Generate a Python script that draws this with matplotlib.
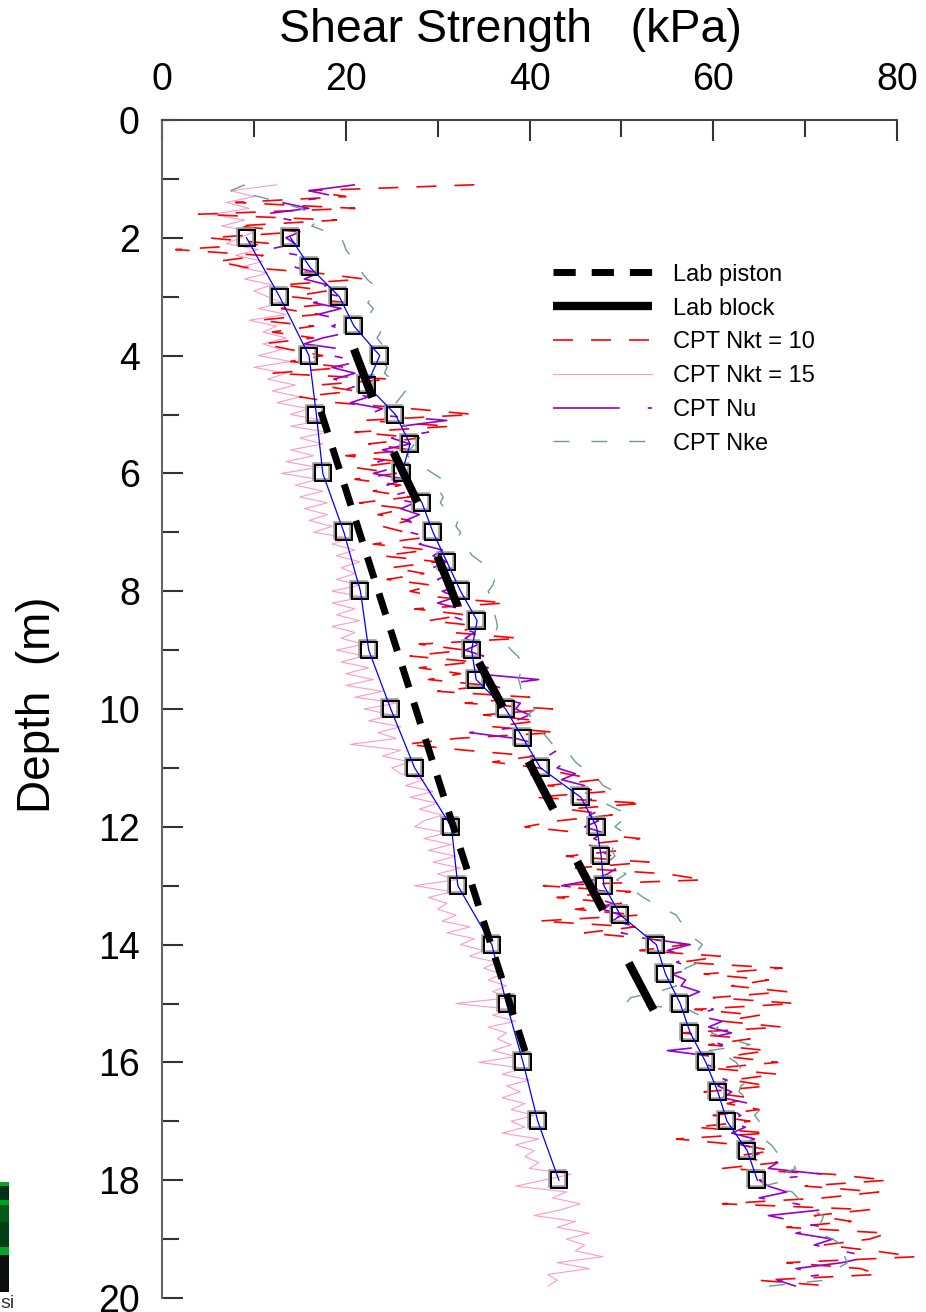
import numpy as np
import matplotlib
matplotlib.use("Agg")
import matplotlib.pyplot as plt
import matplotlib.transforms as mtransforms
from matplotlib.patches import Rectangle

plt.rcParams['font.family'] = ['Liberation Sans', 'DejaVu Sans']

# ---- data -------------------------------------------------------------
# CPT profiles, sampled every 0.1 m from 1.1 m to 19.8 m
cpt_depth = np.round(np.arange(1.1, 19.81, 0.1), 1)

su_nkt10 = [
    34, 16, 20, 8, 21, 4, 19, 8, 15, 5,
    12, 1.5, 11, 6, 9, 17, 22, 13, 18, 14,
    20, 13, 17, 10.5, 16.5, 12, 16.5, 11, 14, 17.5,
    14, 20, 12, 25, 17, 21, 15, 19, 27, 34,
    22, 31.5, 21, 28, 22.5, 27, 20, 26, 21, 25.5,
    21, 26, 23, 27, 21.5, 26.5, 23.5, 27, 24, 26.5,
    28, 23, 29, 24, 30, 25, 28.5, 24.5, 29.5, 27,
    30, 37.5, 27.5, 33, 29, 35, 31.5, 39, 28, 33,
    27, 34, 28, 32.5, 29, 35.5, 30, 40, 33, 42.5,
    35, 41, 36, 43, 32, 26.5, 33, 40.5, 36, 41,
    44, 47.5, 42, 48.5, 40.5, 52.5, 44, 49, 43, 39.5,
    45.5, 52, 46, 50, 44, 53, 45, 55, 59, 41.5,
    51, 43, 50, 45, 52, 41, 51.5, 46, 53, 57,
    52, 61, 56.5, 67.5, 59, 66, 62, 68, 60, 69,
    58, 65, 61, 67.5, 56.5, 64, 59.5, 66, 61.5, 67,
    60, 67, 62, 66, 59, 64, 61.5, 65, 60, 64,
    58, 66, 56, 63, 66.5, 62, 67, 61, 73, 79,
    70, 78, 72, 61, 77, 71, 75, 68, 79, 77,
    72, 77.5, 82, 68, 76, 78, 65, 73,
]

su_nkt15 = [
    12.5, 7.5, 10, 7, 9.5, 5.5, 9, 6.5, 10, 8.5,
    7, 10.5, 8, 11, 8.5, 11.5, 9, 12, 10, 11.5,
    13, 10.5, 13.5, 9.5, 12.5, 11, 13.5, 11, 13, 10.5,
    14, 10, 13.5, 11.5, 14.5, 12, 15, 12.5, 16, 14,
    17.5, 14, 18, 15, 17.5, 14, 16.5, 13.5, 17, 13,
    17, 14.5, 17.5, 15, 18, 15.5, 18, 16, 18.5, 16.5,
    20.5, 18.5, 21, 19, 21.5, 19.5, 21, 19, 21.5, 18.5,
    22, 18.5, 21, 19, 21.5, 18.5, 21, 19.5, 22, 19,
    22, 19.5, 22.5, 20, 23, 20, 24, 21, 25.5, 22,
    25, 22.5, 26, 23.5, 25.5, 20.5, 26, 24, 27, 25,
    26, 28.5, 26.5, 29.5, 27, 30, 28, 30.5, 28.5, 27.5,
    31, 28.5, 31.5, 29, 32, 29.5, 32.5, 30, 32, 27.5,
    31.5, 29, 31, 30, 32, 30.5, 33.5, 31, 34, 32.5,
    35, 33.5, 36.5, 35, 37, 35.5, 37.5, 36, 38, 32,
    38, 36, 38.5, 35.5, 37.5, 36.5, 38, 36, 38.5, 34.5,
    39.5, 37, 40, 37.5, 39, 37, 39.5, 38, 40.5, 38,
    39.5, 37, 41, 38.5, 40.5, 39.5, 41, 40, 44.5, 41.5,
    38.5, 44, 42.5, 45.5, 43.5, 40.5, 45, 43, 46.5, 44,
    46, 45, 48, 43, 46.5, 42, 43, 42,
]

su_nu = [
    21, 16, 19, 13, 16, 11, 14, 12, 15, 13.5,
    14.5, 11.5, 15, 16, 14.5, 17, 15.5, 18, 16.5, 19.5,
    16.5, 19.5, 17, 20, 18.5, 20.5, 17.5, 15.5, 20, 18.5,
    21.5, 18.5, 21, 18.7, 21.5, 19.5, 22.5, 20.5, 24, 22.5,
    31, 26, 29, 25, 27, 24, 26.5, 23.5, 25.5, 23,
    26.5, 24.5, 27, 24.5, 27.5, 26, 28, 26.5, 28.5, 27,
    29.5, 28, 30.5, 29.5, 31, 29.5, 31.5, 30, 32.5, 30.5,
    32, 30, 32.5, 31, 33, 32, 34, 33, 34.5, 33,
    35, 33.5, 35.5, 34, 41, 36, 38, 36, 39, 38.5,
    40, 38.5, 39.5, 33.5, 38.5, 41, 43, 42, 44, 43,
    45, 43.5, 46, 45, 47, 46, 48, 46.5, 47.5, 46,
    48, 47, 48.5, 47.5, 49, 48, 49.5, 48.5, 47, 43.5,
    48.5, 47, 49, 48, 50, 49, 52, 50, 53, 57.5,
    55, 57.5, 56, 58, 55.5, 57, 56.5, 58.5, 57, 58.5,
    60, 58, 61, 59.5, 62, 59, 61, 55, 60, 58.5,
    60.5, 59.5, 61.5, 60.5, 62, 61, 64, 62, 63, 61.5,
    63.5, 62, 64.5, 63, 66, 64, 67, 66, 72, 65,
    66, 68, 65, 69, 72, 66, 69, 72, 69, 73,
    71, 74, 77, 74, 69, 72, 67, 69,
]

su_nke = [
    9, 7.5, 10.5, 13, 15, 16.5, 17, 16.3, 18, 19.5,
    19.8, 20, 20.5, 21.2, 21.5, 21.8, 22.3, 23, 22.5, 23,
    22.4, 23, 22.6, 23.2, 23.5, 23.8, 23.4, 23.9, 24.3, 24,
    24, 24.5, 24.2, 25, 25.9, 26.5, 26, 25.5, 26, 27,
    26, 26.5, 27, 27.8, 27.5, 27, 26.7, 27.5, 28.5, 29.5,
    30.5, 29.6, 30.2, 30.6, 30.3, 30.8, 31.8, 32.2, 32, 32.5,
    32.2, 32.5, 33.3, 33.8, 34.7, 35.5, 35.8, 36.2, 36, 35.5,
    35.8, 36, 36.1, 36.2, 36.4, 36.5, 36.3, 37, 37.5, 38,
    38.7, 39.2, 39.8, 39, 38.8, 39, 39.1, 39.5, 40, 40.6,
    39.8, 41.2, 41.5, 41.4, 42, 42.5, 43, 44.5, 45, 45.8,
    46.5, 47.5, 48, 49.3, 48.5, 48.2, 49.5, 51, 50, 49.3,
    50.3, 49.8, 49.2, 49, 49.3, 48.5, 49.3, 50.5, 49.5, 50.5,
    51.5, 52.4, 53.5, 54.7, 56, 56.4, 56.8, 57.2, 58, 58.8,
    58.3, 59.3, 58.5, 57, 56.5, 55.6, 56, 54, 51, 50.5,
    57.2, 58.5, 59.5, 60.5, 59.8, 61.8, 64, 59.5, 61.5, 62.5,
    63, 63.3, 64, 63, 62.8, 63.6, 64.4, 65.1, 64.5, 65,
    65.1, 65, 65.5, 66.3, 66.8, 67.3, 68.5, 69, 67.3, 68,
    65.5, 68.6, 69.2, 69.8, 70.5, 72, 71.8, 71, 71.4, 73,
    74, 75, 74.3, 74.6, 73.5, 72.8, 72, 66,
]

# averaged CPT values (squares + blue lines)
avg_left_depth = [2, 3, 4, 5, 6, 7, 8, 9, 10, 11, 12, 13, 14, 15, 16, 17, 18]
avg_left_su = [9.2, 12.8, 16.0, 16.8, 17.5, 19.8, 21.6, 22.5, 24.9, 27.5,
               31.5, 32.2, 35.9, 37.5, 39.3, 40.9, 43.2]
avg_right_depth = [2, 2.5, 3, 3.5, 4, 4.5, 5, 5.5, 6, 6.5, 7, 7.5, 8, 8.5, 9, 9.5,
                   10, 10.5, 11, 11.5, 12, 12.5, 13, 13.5, 14, 14.5, 15, 15.5,
                   16, 16.5, 17, 17.5, 18]
avg_right_su = [14.0, 16.1, 19.3, 20.9, 23.7, 22.3, 25.4, 27.0, 26.1, 28.3,
                29.5, 31.0, 32.5, 34.3, 33.7, 34.2, 37.4, 39.3, 41.2, 45.6,
                47.3, 47.8, 48.1, 49.9, 53.8, 54.8, 56.4, 57.5, 59.2, 60.5,
                61.5, 63.7, 64.8]

# lab results
piston_depth = [4.95, 16.0]
piston_su = [17.3, 39.9]
block_depth_top = [3.89, 5.64, 7.41, 9.21, 10.89, 12.59, 14.31]
block_depth_bot = [4.71, 6.49, 8.26, 9.97, 11.70, 13.41, 15.11]
block_su_top = [20.9, 25.2, 30.0, 34.5, 39.9, 45.2, 50.8]
block_su_bot = [22.9, 27.8, 32.2, 37.1, 42.6, 48.0, 53.5]

# ---- figure -----------------------------------------------------------
W, H = 926, 1312
fig = plt.figure(figsize=(W / 100, H / 100), dpi=100)
ax = fig.add_axes([162 / W, 14 / H, 735 / W, 1178 / H])

ax.plot(su_nkt15, cpt_depth, color='#ff99cc', lw=0.8, label='CPT Nkt = 15',
        clip_on=False, zorder=2)
ax.plot(su_nkt10, cpt_depth, color='#ff0000', lw=1.2,
        dashes=(12, 10.8), label='CPT Nkt = 10', clip_on=False, zorder=3)
ax.plot(su_nu, cpt_depth, color='#9400d3', lw=1.2,
        dashes=(40, 16.8, 4.8, 16.8), label='CPT Nu', clip_on=False, zorder=3)
ax.plot(su_nke, cpt_depth, color='#6a9a9a', lw=1.0,
        dashes=(11.5, 15.8), label='CPT Nke', clip_on=False, zorder=3)

# averaged values: grey shadow squares, black squares, blue line
shadow = mtransforms.offset_copy(ax.transData, fig=fig, x=-2, y=2, units='dots')
for d, s in [(avg_left_depth, avg_left_su), (avg_right_depth, avg_right_su)]:
    ax.plot(s, d, 's', ms=11.5, mfc='none', mec='#999999', mew=1.8,
            transform=shadow, zorder=4)
    ax.plot(s, d, 's', ms=11.5, mfc='none', mec='black', mew=1.4, zorder=5)
    ax.plot(s, d, color='#0000ff', lw=0.9, zorder=6)

# lab
ax.plot(piston_su, piston_depth, color='black', lw=5, dashes=(3.2, 2.3),
        solid_capstyle='butt', dash_capstyle='butt', label='Lab piston', zorder=7)
for i in range(len(block_su_top)):
    ax.plot([block_su_top[i], block_su_bot[i]],
            [block_depth_top[i], block_depth_bot[i]],
            color='black', lw=6, solid_capstyle='butt', zorder=7,
            label='Lab block' if i == 0 else None)

# axes
ax.set_xlim(0, 80)
ax.set_ylim(20, 0)
ax.xaxis.tick_top()
ax.set_xticks([0, 20, 40, 60, 80])
ax.set_xticks([10, 30, 50, 70], minor=True)
ax.set_yticks(np.arange(0, 21, 2))
ax.set_yticks(np.arange(1, 20, 2), minor=True)
ax.tick_params(which='both', direction='in', width=1.5, color='#333333',
               labelsize=27, top=True, bottom=False, right=False)
ax.tick_params(which='major', length=15)
ax.tick_params(which='minor', length=12.5)
ax.tick_params(axis='x', pad=16)
ax.tick_params(axis='y', pad=16)
for side in ['bottom', 'right']:
    ax.spines[side].set_visible(False)
ax.spines['left'].set_color('#666666')
ax.spines['top'].set_color('#444444')
ax.spines['left'].set_linewidth(1.5)
ax.spines['top'].set_linewidth(1.5)

fig.text(510 / W, 1 - 30 / H, 'Shear Strength   (kPa)', fontsize=33.5,
         ha='center', va='center')
fig.text(38 / W, 1 - 705 / H, 'Depth  (m)', fontsize=33, rotation=90,
         ha='center', va='center')

handles, labels = ax.get_legend_handles_labels()
order = ['Lab piston', 'Lab block', 'CPT Nkt = 10', 'CPT Nkt = 15',
         'CPT Nu', 'CPT Nke']
hmap = dict(zip(labels, handles))
ax.legend([hmap[k] for k in order], order, loc='upper left',
          bbox_to_anchor=(0.532, 0.878), frameon=False, fontsize=17,
          handlelength=4.2, handletextpad=0.9, labelspacing=0.5,
          borderpad=0, borderaxespad=0)

# clipped fragment at the lower-left corner of the source picture
for y0, y1, c in [(1182, 1186, '#00a82a'), (1186, 1200, '#00301a'),
                  (1200, 1205, '#00a020'), (1205, 1222, '#005a1a'),
                  (1222, 1247, '#004014'), (1247, 1255, '#00a82a'),
                  (1255, 1292, '#0c0f12')]:
    fig.add_artist(Rectangle((0, 1 - y1 / H), 9 / W, (y1 - y0) / H,
                             transform=fig.transFigure, color=c, lw=0))
fig.text(0, 1 - 1304 / H, 'si', fontsize=14, color='#333333', va='center')

fig.savefig('out.png', dpi=100)
